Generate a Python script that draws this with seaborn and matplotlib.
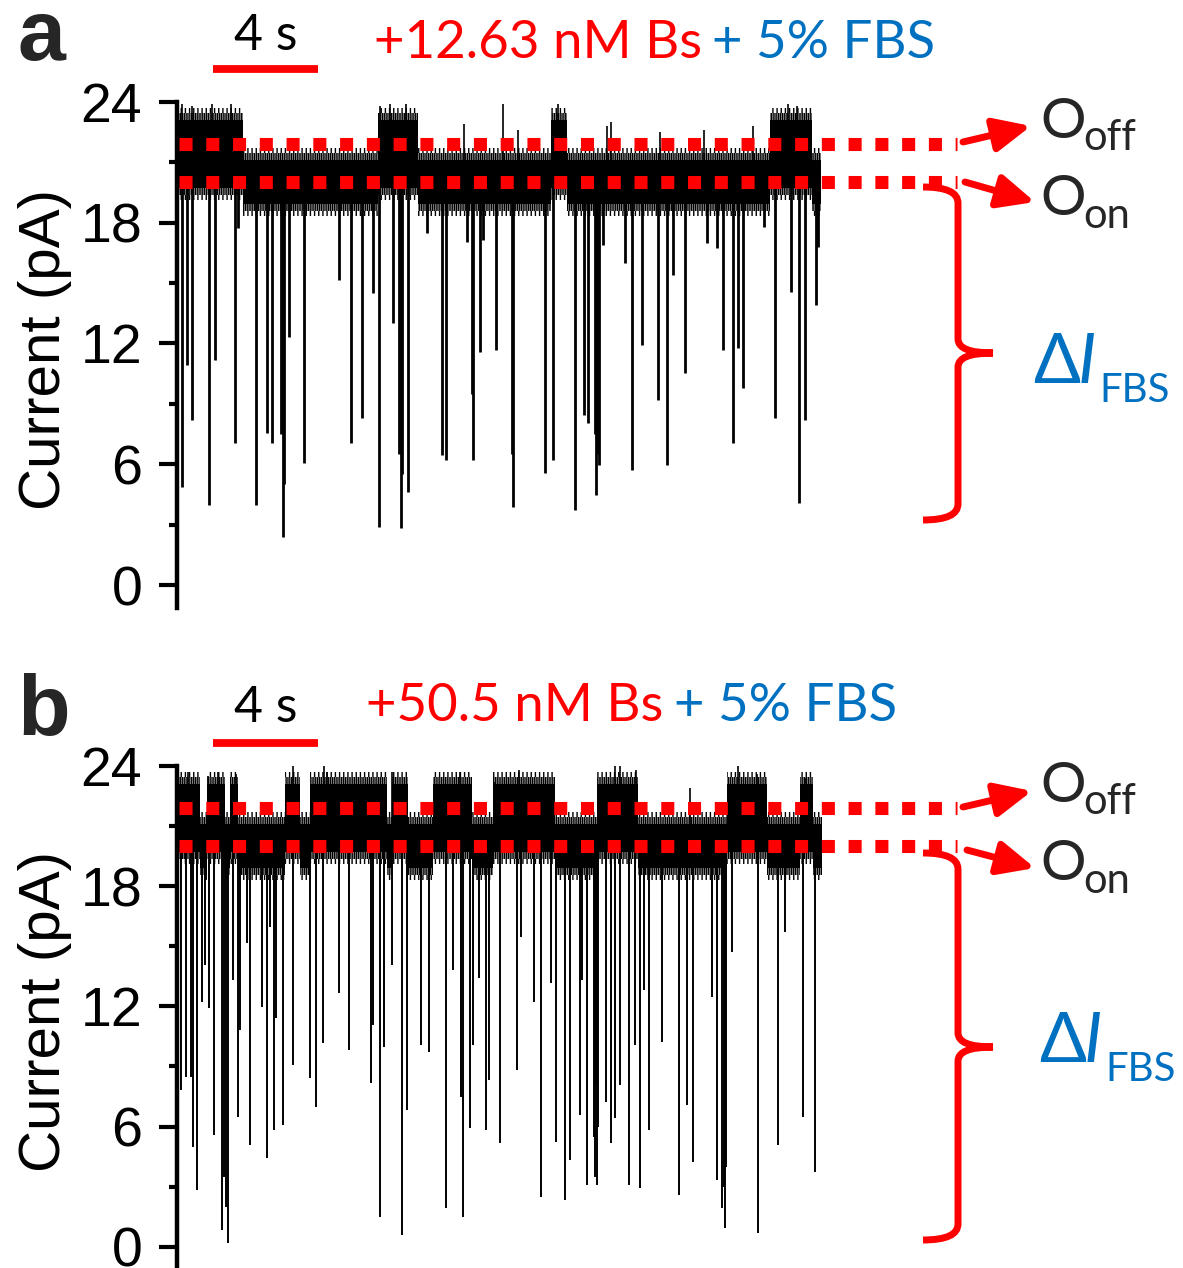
import matplotlib
matplotlib.use("Agg")
import numpy as np
import matplotlib.pyplot as plt
import seaborn as sns
from matplotlib.patches import FancyArrowPatch, PathPatch
from matplotlib.path import Path

# ---------------- data ----------------
yticks_major = [0, 6, 12, 18, 24]
yticks_minor = [3, 9, 15, 21]
level_off = 21.9          # O_off mean current (pA)
level_on = 20.0           # O_on mean current (pA)
band_off = (19.7, 23.1)   # dense noise band of the O_off state (pA)
band_on = (18.9, 21.1)    # dense noise band of the O_on state (pA)
fuzz = 0.35               # width of the ragged noise fringe (pA)
scale_bar_s = 4
scale_label = "4 s"
ylabel = "Current (pA)"
titles_red = ["+12.63 nM Bs", "+50.5 nM Bs"]
title_blue = "+ 5% FBS"
panel_letters = ["a", "b"]

# panel a: state boundaries (s) and states
a_bounds = [0.08, 2.51, 7.66, 9.18, 14.25, 14.86, 22.59, 24.19, 24.53]
a_states = ["off", "on", "off", "on", "off", "on", "off", "on"]
# panel a: blockade spikes (time s, minimum current pA)
a_spike_t = [0.18, 0.37, 0.56, 1.22, 1.45, 2.21, 2.31, 3.00, 3.43, 3.62, 3.98, 4.03,
             4.08, 4.27, 4.84, 6.17, 6.63, 7.05, 7.46, 7.70, 8.23, 8.46, 8.52, 8.58,
             8.79, 9.51, 10.08, 10.25, 11.04, 11.22, 11.26, 11.54, 11.66, 12.15, 12.78,
             12.80, 14.02, 14.32, 15.16, 15.50, 15.66, 15.92, 15.96, 16.00, 16.08, 16.23,
             17.07, 17.33, 17.71, 18.32, 18.67, 18.90, 19.35, 20.19, 20.57, 20.80, 21.18,
             21.37, 21.56, 22.36, 22.78, 23.39, 23.70, 23.92, 24.34, 24.42]
a_spike_i = [4.88, 10.92, 8.19, 3.97, 11.17, 7.05, 17.73, 3.97, 7.55, 7.05, 7.5, 2.38,
             5.0, 12.31, 6.06, 15.14, 7.05, 8.29, 14.5, 2.88, 13.01, 6.5, 2.83, 5.5,
             4.62, 17.48, 6.45, 6.21, 17.03, 9.5, 6.21, 11.57, 17.13, 11.67, 6.5,
             3.87, 5.56, 6.21, 3.72, 8.44, 8.04, 7.5, 4.47, 6.5, 5.96, 16.88,
             15.99, 5.71, 11.92, 9.19, 5.96, 15.39, 10.53, 16.98, 16.73, 11.67, 7.05,
             11.77, 9.78, 17.78, 8.29, 14.55, 4.07, 8.19, 13.90, 16.78]
# panel a: upward noise tips (time s, maximum current pA)
a_tip_t = [0.18, 0.56, 1.32, 2.06, 7.73, 8.11, 8.72, 10.93, 12.41, 13.0, 14.53, 16.37,
           16.53, 18.4, 20.08, 21.95, 23.29, 23.6]
a_tip_i = [23.9, 23.8, 23.9, 23.9, 23.8, 23.9, 23.9, 22.9, 23.9, 22.6, 23.9, 22.8,
           23.0, 22.5, 22.6, 22.8, 23.9, 23.8]

# panel b
b_bounds = [0.08, 0.88, 1.14, 1.83, 2.02, 2.32, 4.11, 4.69, 5.07, 8.0, 8.19, 8.8, 9.75,
            11.24, 12.04, 14.4, 16.0, 17.56, 20.95, 22.48, 23.73, 24.23, 24.57]
b_states = ["off", "on"] * 11
b_spike_t = [0.14, 0.34, 0.53, 0.61, 0.75, 0.95, 1.07, 1.22, 1.41, 1.71, 1.80, 1.88,
             1.94, 2.12, 2.32, 2.40, 2.67, 2.78, 3.23, 3.42, 3.54, 3.70, 3.76, 4.03,
             4.42, 5.07, 5.30, 5.55, 6.17, 6.55, 7.39, 7.46, 7.73, 7.89, 8.19, 8.56,
             8.75, 9.28, 9.60, 10.25, 10.51, 10.81, 10.90, 11.16, 11.26, 11.50, 11.77,
             11.89, 12.30, 12.95, 13.09, 13.60, 13.86, 14.25, 14.44, 14.78, 14.97, 15.35,
             15.42, 15.61, 15.88, 15.92, 15.95, 15.99, 16.02, 16.34, 16.52, 16.69, 16.88,
             17.22, 17.45, 17.64, 17.79, 17.98, 18.46, 19.12, 19.43, 19.65, 20.37, 20.56,
             20.75, 20.82, 20.88, 20.92, 21.13, 22.12, 22.88, 23.16, 23.84, 24.30]
b_spike_i = [7.82, 8.47, 8.47, 4.98, 2.83, 12.22, 14.06, 11.92, 5.58, 0.83, 3.5, 2.0,
             0.18, 13.31, 6.47, 10.82, 15.16, 5.08, 11.97, 4.43, 15.96, 5.83, 11.42, 6.08,
             9.07, 8.42, 6.97, 10.17, 12.68, 9.82, 8.17, 11.07, 1.48, 9.97, 14.06, 0.58,
             6.82, 10.07, 9.72, 1.93, 13.81, 7.47, 1.48, 5.93, 10.07, 13.41, 5.83,
             8.32, 5.18, 8.82, 15.46, 12.22, 2.48, 13.16, 5.23, 2.33, 4.33, 6.57,
             13.31, 3.08, 5.5, 3.48, 8.0, 3.08, 6.0, 7.22, 5.18, 6.42, 8.07,
             3.08, 10.07, 2.93, 12.82, 5.83, 10.22, 2.58, 7.07, 4.23, 12.47, 3.33,
             1.93, 3.0, 0.93, 4.0, 14.71, 0.68, 5.08, 15.71, 6.47, 3.73]
b_tip_t = [0.43, 1.19, 1.57, 2.25, 4.43, 5.6, 5.7, 8.18, 10.78, 12.11, 13.04, 16.69,
           16.88, 17.49, 19.54, 21.36, 22.08, 23.96]
b_tip_i = [23.7, 23.5, 23.7, 23.6, 24.0, 24.0, 23.7, 23.7, 23.7, 23.2, 23.8, 24.0,
           24.0, 23.8, 22.9, 24.0, 23.6, 23.4]

# ---------------- style ----------------
W, H, DPI = 1183, 1268, 100
RED, BLUE = "#FF0000", "#0070C0"
sns.set_theme(style="ticks")
plt.rcParams["font.family"] = ["Liberation Sans", "DejaVu Sans"]
plt.rcParams["hatch.linewidth"] = 1.0
plt.rcParams["hatch.color"] = "black"
LATO = ["Lato", "DejaVu Sans"]

fig = plt.figure(figsize=(W / DPI, H / DPI), dpi=DPI)
fig.patch.set_facecolor("white")


def fp(x, y):
    """figure pixel (from top-left) -> figure fraction"""
    return (x / W, 1 - y / H)


def ftext(x, y, s, **kw):
    fig.text(*fp(x, y), s, **kw)


panels = [
    dict(rect=[177 / W, 1 - 608 / H, 1006 / W, (608 - 101.7) / H], ylim=(-1.14, 24.0),
         bounds=a_bounds, states=a_states, st=a_spike_t, si=a_spike_i, tt=a_tip_t, ti=a_tip_i,
         slw=2.0, bar_y=25.6, lab_y=26.55),
    dict(rect=[177 / W, 0.0, 1006 / W, (1268 - 766) / H], ylim=(-1.063, 24.0),
         bounds=b_bounds, states=b_states, st=b_spike_t, si=b_spike_i, tt=b_tip_t, ti=b_tip_i,
         slw=1.4, bar_y=25.17, lab_y=26.2),
]

px_per_s = 26.25
xmax = 1006 / px_per_s

for p in panels:
    ax = fig.add_axes(p["rect"])
    ax.set_xlim(0, xmax)
    ax.set_ylim(*p["ylim"])
    ax.set_facecolor("none")
    sns.despine(ax=ax, bottom=True)
    ax.spines["left"].set_linewidth(3.2)
    ax.spines["left"].set_color("black")
    ax.set_xticks([])
    ax.set_yticks(yticks_major)
    ax.set_yticks(yticks_minor, minor=True)
    ax.tick_params(axis="y", which="major", length=13, width=3, pad=12,
                   labelsize=40, colors="black", direction="out")
    ax.tick_params(axis="y", which="minor", length=6, width=3, direction="out", color="black")
    ax.set_ylabel(ylabel, fontsize=42, color="black")
    ax.yaxis.set_label_coords(-0.1044, 0.51)

    # noise band of the trace: dense core plus a ragged fringe above and below
    xs, lo, hi = [], [], []
    for s, e, st in zip(p["bounds"][:-1], p["bounds"][1:], p["states"]):
        l, h = band_off if st == "off" else band_on
        xs += [s, e]
        lo += [l, l]
        hi += [h, h]
    xs, lo, hi = np.array(xs), np.array(lo), np.array(hi)
    ax.fill_between(xs, lo, hi, color="black", lw=0, clip_on=False, zorder=2)
    for y0, y1, hatch in [(hi, hi + fuzz, "|" * 9), (lo - fuzz, lo, "|" * 9),
                          (hi + fuzz, hi + 1.7 * fuzz, "|" * 4), (lo - 1.7 * fuzz, lo - fuzz, "|" * 4)]:
        ax.fill_between(xs, y0, y1, facecolor="none", edgecolor="black", hatch=hatch,
                        lw=0, clip_on=False, zorder=2)
    # blockade spikes and upward noise tips
    ax.vlines(p["st"], p["si"], 20.5, color="black", lw=p["slw"], clip_on=False, zorder=2)
    ax.vlines(p["tt"], 21.0, p["ti"], color="black", lw=1.2, clip_on=False, zorder=2)

    # O_off / O_on dotted reference levels
    for lv in (level_off, level_on):
        ax.plot([0.076, 29.71], [lv, lv], color=RED, lw=9.4, linestyle=(0, (1, 1.05)),
                dash_capstyle="butt", clip_on=False, zorder=5)

    # scale bar
    x0 = 1.39
    ax.plot([x0, x0 + scale_bar_s], [p["bar_y"]] * 2, color=RED, lw=5.6,
            solid_capstyle="butt", clip_on=False)
    ax.text(x0 + scale_bar_s / 2, p["lab_y"], scale_label, ha="center", va="baseline",
            fontsize=36, family=LATO, color="black", clip_on=False)

# ---------------- annotations (figure pixels) ----------------
ftext(17, 60, panel_letters[0], fontsize=62, fontweight="bold", va="baseline", ha="left")
ftext(17, 735, panel_letters[1], fontsize=62, fontweight="bold", va="baseline", ha="left")

ftext(374, 58, titles_red[0], color=RED, fontsize=38, family=LATO, va="baseline")
ftext(712, 58, title_blue, color=BLUE, fontsize=38, family=LATO, va="baseline")
ftext(366, 721, titles_red[1], color=RED, fontsize=38, family=LATO, va="baseline")
ftext(674, 721, title_blue, color=BLUE, fontsize=38, family=LATO, va="baseline")

specs = [
    dict(off_arrow=((963, 142), (1031, 126)), on_arrow=((965, 182), (1035, 202)),
         off_base=138, on_base=215, brace=(187, 353, 520), dI=(1033, 383)),
    dict(off_arrow=((963, 807), (1032, 791)), on_arrow=((967, 850), (1035, 868)),
         off_base=802, on_base=880, brace=(853, 1047, 1240), dI=(1039, 1062)),
]
for s in specs:
    for (a0, a1) in (s["off_arrow"], s["on_arrow"]):
        arr = FancyArrowPatch(fp(*a0), fp(*a1), transform=fig.transFigure,
                              arrowstyle="-|>,head_length=0.37,head_width=0.17",
                              mutation_scale=60, lw=5, color=RED, shrinkA=0, shrinkB=0)
        fig.add_artist(arr)
    ftext(1040, s["off_base"], "O", fontsize=41, family=LATO, va="baseline")
    ftext(1083, s["off_base"] + 12, "off", fontsize=30, family=LATO, va="baseline")
    ftext(1040, s["on_base"], "O", fontsize=41, family=LATO, va="baseline")
    ftext(1083, s["on_base"] + 13, "on", fontsize=30, family=LATO, va="baseline")

    top, mid, bot = s["brace"]
    xv, xh, xt = 958, 923, 993
    verts = [fp(xh, top), fp(xv, top), fp(xv, top + 16), fp(xv, mid - 14), fp(xv, mid), fp(xt, mid),
             fp(xt, mid), fp(xv, mid), fp(xv, mid + 14), fp(xv, bot - 16), fp(xv, bot), fp(xh, bot)]
    codes = [Path.MOVETO, Path.CURVE3, Path.CURVE3, Path.LINETO, Path.CURVE3, Path.CURVE3,
             Path.MOVETO, Path.CURVE3, Path.CURVE3, Path.LINETO, Path.CURVE3, Path.CURVE3]
    fig.add_artist(PathPatch(Path(verts, codes), transform=fig.transFigure, fill=False,
                             lw=5, edgecolor=RED, capstyle="butt", joinstyle="round"))

    x, yb = s["dI"]
    ftext(x, yb, "\u0394", fontsize=50, family=LATO, color=BLUE, va="baseline")
    ftext(x + 45, yb, "I", fontsize=50, family=LATO, style="italic", color=BLUE, va="baseline")
    ftext(x + 66, yb + 19, "FBS", fontsize=29, family=LATO, color=BLUE, va="baseline")

fig.savefig("out.png", dpi=DPI, facecolor="white")
